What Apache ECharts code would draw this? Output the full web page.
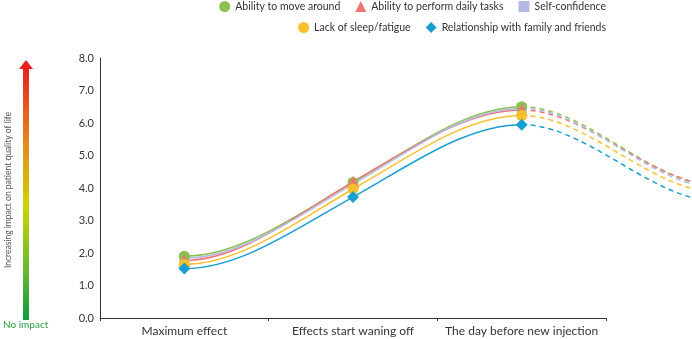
<!DOCTYPE html>
<html>
<head>
<meta charset="utf-8">
<script src="https://cdn.jsdelivr.net/npm/echarts@6/dist/echarts.min.js"></script>
<style>html,body{margin:0;padding:0;background:#fff;}#c{width:692px;height:339px;}</style>
</head>
<body>
<div id="c"></div>
<script>
// Data
const categories = ['Maximum effect', 'Effects start waning off', 'The day before new injection'];
const yTicks = [0, 1, 2, 3, 4, 5, 6, 7, 8];
const seriesNames = ['Ability to move around', 'Ability to perform daily tasks', 'Self-confidence', 'Lack of sleep/fatigue', 'Relationship with family and friends'];
// last value = projected (dashed) point after the day before new injection
const moveAround   = [1.90, 4.17, 6.50, 4.20];
const dailyTasks   = [1.77, 4.19, 6.40, 4.22];
const selfConf     = [1.84, 4.12, 6.45, 4.14];
const sleepFatigue = [1.65, 3.97, 6.23, 4.00];
const relationship = [1.52, 3.72, 5.95, 3.72];

const seriesValues = [moveAround, dailyTasks, selfConf, sleepFatigue, relationship];
const colors = ['#8cc152', '#f07470', '#b4b9e2', '#fbc02d', '#179fd0'];
const symbols = ['circle', 'triangle', 'rect', 'circle', 'diamond'];
const symbolSizes = [11, 12, 10, 11, 12];
const zOrder = [4, 5, 3, 6, 7];

const FONT = 'Lato';
const chart = echarts.init(document.getElementById('c'));
const band = 506 / 3;
const TENSION = 1.3;

// Hermite spline in data space -> cubic Bezier control points (data space)
function splineSegments(vals) {
  const n = vals.length, m = [];
  for (let i = 0; i < n; i++) {
    if (i === 0) m[i] = 0;
    else if (i === n - 1) m[i] = TENSION * (vals[i] - vals[i - 1]) / 2;
    else m[i] = TENSION * (vals[i + 1] - vals[i - 1]) / 2;
  }
  const segs = [];
  for (let i = 0; i < n - 1; i++) {
    segs.push([[i, vals[i]], [i + 1 / 3, vals[i] + m[i] / 3], [i + 2 / 3, vals[i + 1] - m[i + 1] / 3], [i + 1, vals[i + 1]]]);
  }
  return segs;
}

const series = [];
seriesValues.forEach((vals, i) => {
  series.push({
    name: seriesNames[i] + ' line', type: 'custom', xAxisIndex: 1, yAxisIndex: 1,
    data: [0], clip: false, silent: true, z: 2,
    renderItem: function (params, api) {
      const segs = splineSegments(vals).map(s => s.map(p => api.coord(p)));
      return {
        type: 'group',
        children: segs.map((s, k) => ({
          type: 'bezierCurve',
          shape: { x1: s[0][0], y1: s[0][1], cpx1: s[1][0], cpy1: s[1][1], cpx2: s[2][0], cpy2: s[2][1], x2: s[3][0], y2: s[3][1] },
          style: { stroke: colors[i], lineWidth: 1.5, fill: null, lineDash: k >= 2 ? [5, 4] : null }
        }))
      };
    }
  });
});
seriesValues.forEach((vals, i) => {
  series.push({
    name: seriesNames[i], type: 'scatter', xAxisIndex: 1, yAxisIndex: 1,
    data: vals.slice(0, 3).map((v, k) => [k, v]),
    symbol: symbols[i], symbolSize: symbolSizes[i],
    itemStyle: { color: colors[i], opacity: 1 }, z: zOrder[i]
  });
});

const legendCommon = {
  itemWidth: 11, itemHeight: 11, itemGap: 15, right: 86, padding: 0,
  textStyle: { fontFamily: FONT, fontSize: 10.5, color: '#333' }
};

chart.setOption({
  animation: false,
  color: colors,
  legend: [
    Object.assign({}, legendCommon, { top: 1, data: seriesNames.slice(0, 3).map((n, i) => ({ name: n, icon: symbols[i] })) }),
    Object.assign({}, legendCommon, { top: 22, data: seriesNames.slice(3).map((n, i) => ({ name: n, icon: symbols[i + 3] })) })
  ],
  grid: [
    { left: 100, top: 58, width: 506, bottom: 21 },
    { left: 100, top: 58, width: 592, bottom: 21 }
  ],
  xAxis: [
    {
      type: 'category', gridIndex: 0, data: categories, boundaryGap: true,
      axisLine: { lineStyle: { color: '#333', width: 1 } },
      axisTick: { show: true, length: 3, lineStyle: { color: '#333' } },
      axisLabel: { fontFamily: FONT, fontSize: 12, color: '#333', margin: 7, interval: 0 },
      splitLine: { show: false }
    },
    { type: 'value', gridIndex: 1, min: -0.5, max: -0.5 + 592 / band, show: false }
  ],
  yAxis: [
    {
      type: 'value', gridIndex: 0, min: yTicks[0], max: yTicks[yTicks.length - 1], interval: 1,
      axisLine: { show: true, lineStyle: { color: '#333', width: 1 } },
      axisTick: { show: false },
      splitLine: { show: false },
      axisLabel: { fontFamily: FONT, fontSize: 11, color: '#333', margin: 6, formatter: v => v.toFixed(1) }
    },
    { type: 'value', gridIndex: 1, min: 0, max: 8, show: false }
  ],
  graphic: [
    {
      type: 'rect', shape: { x: 23, y: 68, width: 6, height: 252 },
      style: {
        fill: new echarts.graphic.LinearGradient(0, 0, 0, 1, [
          { offset: 0, color: '#e8201e' },
          { offset: 0.3, color: '#e58a1e' },
          { offset: 0.55, color: '#cbd600' },
          { offset: 0.8, color: '#6ab82e' },
          { offset: 1, color: '#0f9a44' }
        ])
      }
    },
    {
      type: 'polygon', shape: { points: [[26, 60], [33, 69], [19, 69]] },
      style: { fill: '#e8201e' }
    },
    {
      type: 'text', left: 3, top: 320,
      style: { text: 'No impact', fontFamily: FONT, fontSize: 10, fill: '#2ea043' }
    },
    {
      type: 'text', x: 8, y: 190, rotation: Math.PI / 2,
      style: { text: 'Increasing impact on patient quality of life', fontFamily: FONT, fontSize: 8.5, fill: '#555', align: 'center', verticalAlign: 'middle' }
    }
  ],
  series: series
});
</script>
</body>
</html>
